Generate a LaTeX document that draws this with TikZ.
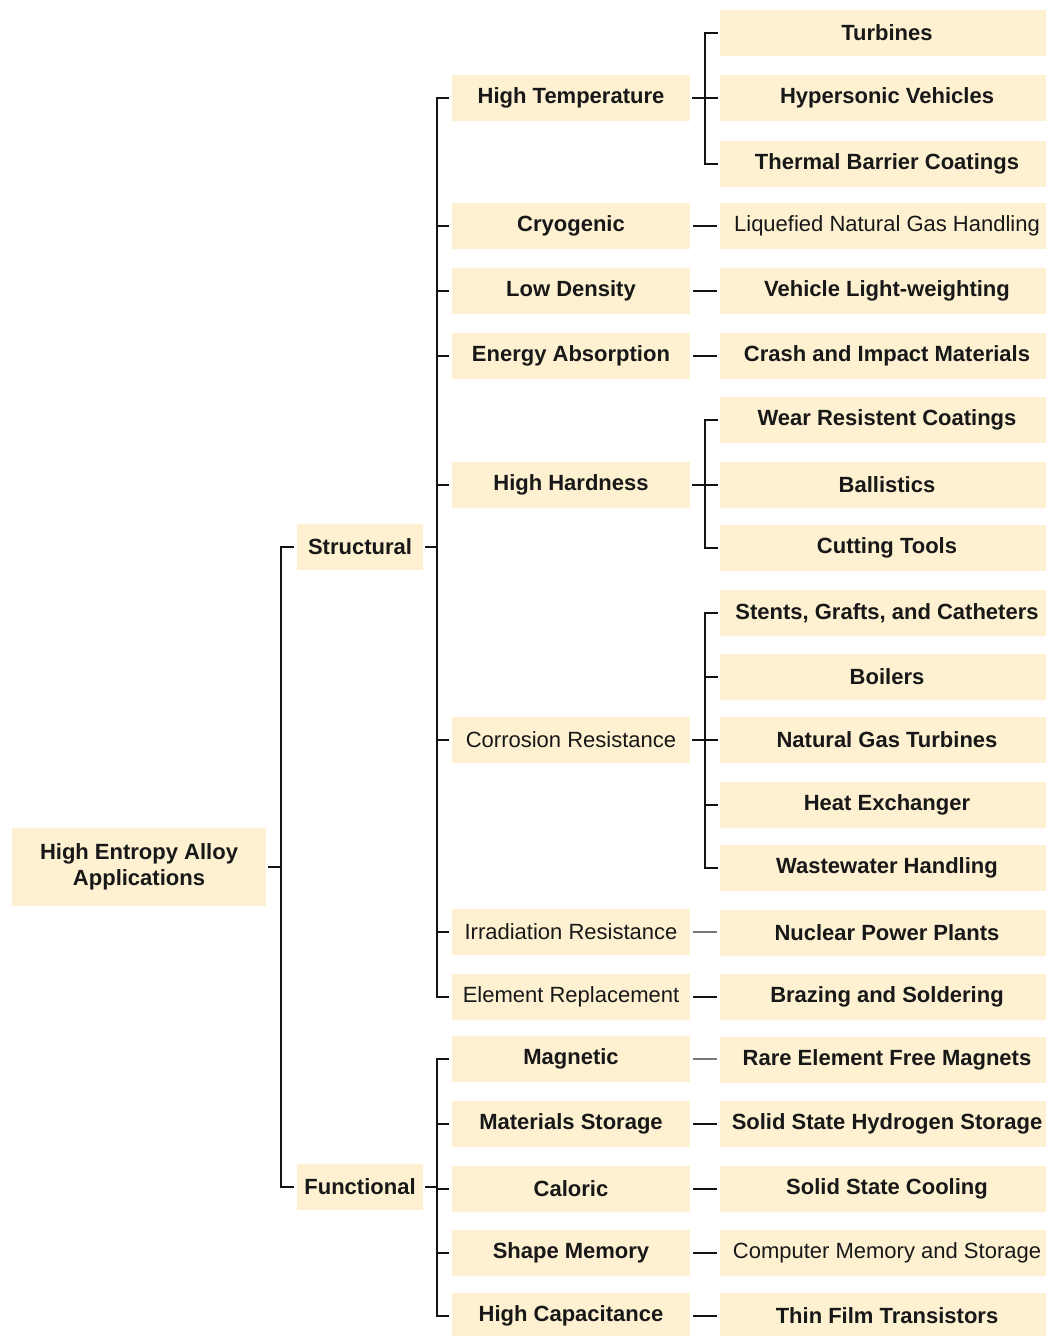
\documentclass[tikz,border=0pt]{standalone}
\usepackage{fontspec}
\setmainfont{Liberation Sans}
\definecolor{boxfill}{RGB}{253,241,209}
\definecolor{txt}{RGB}{24,24,24}
\definecolor{lgray}{RGB}{120,120,120}
\tikzset{
  box/.style={fill=boxfill, inner sep=0pt, align=center, text=txt, font=\fontsize{22}{26}\selectfont\bfseries},
  reg/.style={font=\fontsize{22}{26}\selectfont},
  rootbox/.style={box, minimum width=254, minimum height=78},
  midbox/.style={box, minimum width=126, minimum height=46},
  lvtwo/.style={box, minimum width=238, minimum height=46},
  lvthree/.style={box, minimum width=334, minimum height=46},
  conn/.style={draw=black!92, line width=1.8pt},
}
\begin{document}
\begin{tikzpicture}[x=1pt,y=-1pt]
\useasboundingbox (0,0) rectangle (1046,1336);
\fill[white] (0,0) rectangle (1046,1336);

% root and level 1
\node[rootbox] (root) at (139,867) {High Entropy Alloy\\Applications};
\node[midbox] (str) at (360,547) {Structural};
\node[midbox] (fun) at (360,1187) {Functional};

% level 2
\node[lvtwo] (ht) at (571,98) {High Temperature};
\node[lvtwo] (cr) at (571,226) {Cryogenic};
\node[lvtwo] (ld) at (571,291) {Low Density};
\node[lvtwo] (ea) at (571,356) {Energy Absorption};
\node[lvtwo] (hh) at (571,485) {High Hardness};
\node[lvtwo,reg] (co) at (571,740) {Corrosion Resistance};
\node[lvtwo,reg] (ir) at (571,932) {Irradiation Resistance};
\node[lvtwo,reg] (er) at (571,997) {Element Replacement};
\node[lvtwo] (mg) at (571,1059) {Magnetic};
\node[lvtwo] (ms) at (571,1124) {Materials Storage};
\node[lvtwo] (ca) at (571,1189) {Caloric};
\node[lvtwo] (sm) at (571,1253) {Shape Memory};
\node[lvtwo] (hc) at (571,1316) {High Capacitance};

% level 3
\node[lvthree] (t1) at (887,33) {Turbines};
\node[lvthree] (t2) at (887,98) {Hypersonic Vehicles};
\node[lvthree] (t3) at (887,164) {Thermal Barrier Coatings};
\node[lvthree,reg] (t4) at (887,226) {Liquefied Natural Gas Handling};
\node[lvthree] (t5) at (887,291) {Vehicle Light-weighting};
\node[lvthree] (t6) at (887,356) {Crash and Impact Materials};
\node[lvthree] (t7) at (887,420) {Wear Resistent Coatings};
\node[lvthree] (t8) at (887,485) {Ballistics};
\node[lvthree] (t9) at (887,548) {Cutting Tools};
\node[lvthree] (t10) at (887,613) {Stents, Grafts, and Catheters};
\node[lvthree] (t11) at (887,677) {Boilers};
\node[lvthree] (t12) at (887,740) {Natural Gas Turbines};
\node[lvthree] (t13) at (887,805) {Heat Exchanger};
\node[lvthree] (t14) at (887,868) {Wastewater Handling};
\node[lvthree] (t15) at (887,933) {Nuclear Power Plants};
\node[lvthree] (t16) at (887,997) {Brazing and Soldering};
\node[lvthree] (t17) at (887,1060) {Rare Element Free Magnets};
\node[lvthree] (t18) at (887,1124) {Solid State Hydrogen Storage};
\node[lvthree] (t19) at (887,1189) {Solid State Cooling};
\node[lvthree,reg] (t20) at (887,1253) {Computer Memory and Storage};
\node[lvthree] (t21) at (887,1316) {Thin Film Transistors};

% bus coordinates
\coordinate (b0) at (281,0);
\coordinate (b1) at (437,0);
\coordinate (b2) at (705,0);

% root -> structural / functional
\draw[conn] ([xshift=2]root.east) -- (root.east -| b0);
\draw[conn] ([xshift=-3]str.west) -- (str.west -| b0) -- (fun.west -| b0) -- ([xshift=-3]fun.west);

% structural -> children
\draw[conn] ([xshift=2]str.east) -- (str.east -| b1);
\draw[conn] ([xshift=-3]ht.west) -- (ht.west -| b1) -- (er.west -| b1) -- ([xshift=-3]er.west);
\foreach \c in {cr,ld,ea,hh,co,ir}
  \draw[conn] (\c.west -| b1) -- ([xshift=-3]\c.west);

% functional -> children
\draw[conn] ([xshift=2]fun.east) -- (fun.east -| b1);
\draw[conn] ([xshift=-3]mg.west) -- (mg.west -| b1) -- (hc.west -| b1) -- ([xshift=-3]hc.west);
\foreach \c in {ms,ca,sm}
  \draw[conn] (\c.west -| b1) -- ([xshift=-3]\c.west);

% high temperature
\draw[conn] ([xshift=2]ht.east) -- (ht.east -| b2);
\draw[conn] ([xshift=-2]t1.west) -- (t1.west -| b2) -- (t3.west -| b2) -- ([xshift=-2]t3.west);
\draw[conn] (t2.west -| b2) -- ([xshift=-2]t2.west);

% single children
\draw[conn] ([xshift=3]cr.east) -- ([xshift=-3]cr.east -| t4.west);
\draw[conn] ([xshift=3]ld.east) -- ([xshift=-3]ld.east -| t5.west);
\draw[conn] ([xshift=3]ea.east) -- ([xshift=-3]ea.east -| t6.west);

% high hardness
\draw[conn] ([xshift=2]hh.east) -- (hh.east -| b2);
\draw[conn] ([xshift=-2]t7.west) -- (t7.west -| b2) -- (t9.west -| b2) -- ([xshift=-2]t9.west);
\draw[conn] (t8.west -| b2) -- ([xshift=-2]t8.west);

% corrosion resistance
\draw[conn] ([xshift=2]co.east) -- (co.east -| b2);
\draw[conn] ([xshift=-2]t10.west) -- (t10.west -| b2) -- (t14.west -| b2) -- ([xshift=-2]t14.west);
\foreach \c in {t11,t12,t13}
  \draw[conn] (\c.west -| b2) -- ([xshift=-2]\c.west);

\draw[conn,draw=lgray] ([xshift=3]ir.east) -- ([xshift=-3]ir.east -| t15.west);
\draw[conn] ([xshift=3]er.east) -- ([xshift=-3]er.east -| t16.west);
\draw[conn,draw=lgray] ([xshift=3]mg.east) -- ([xshift=-3]mg.east -| t17.west);
\draw[conn] ([xshift=3]ms.east) -- ([xshift=-3]ms.east -| t18.west);
\draw[conn] ([xshift=3]ca.east) -- ([xshift=-3]ca.east -| t19.west);
\draw[conn] ([xshift=3]sm.east) -- ([xshift=-3]sm.east -| t20.west);
\draw[conn] ([xshift=3]hc.east) -- ([xshift=-3]hc.east -| t21.west);
\end{tikzpicture}
\end{document}
